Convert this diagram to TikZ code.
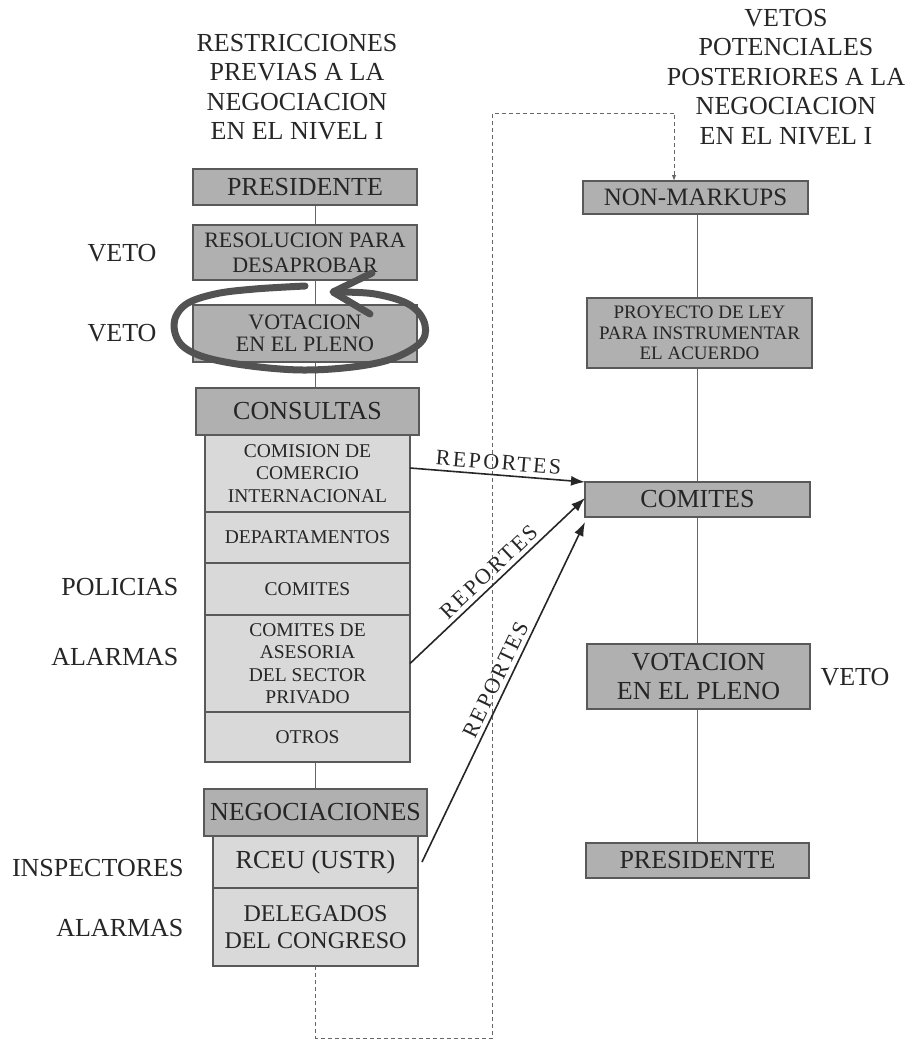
\documentclass[tikz,border=0pt]{standalone}
\usepackage{fontspec}
\setmainfont{Liberation Serif}
\newfontfamily\spacedfont[LetterSpace=11]{Liberation Serif}
\usetikzlibrary{positioning,arrows.meta,backgrounds}
\tikzset{
		>={Latex[length=14pt,width=10pt]},
		base/.style={
			rectangle,
			draw=black!65, line width=1.4pt,
			outer sep=0pt, inner sep=1pt,
			align=center,
			text=black!85},
		darkbox/.style={base, fill=black!31, font=\fontsize{26}{29}\selectfont},
		litebox/.style={base, fill=black!15, minimum width=205pt,
			font=\fontsize{19.5}{22.5}\selectfont},
		title/.style={align=center, text=black!85, font=\fontsize{26}{29.5}\selectfont},
		side/.style={text=black!85, font=\fontsize{26}{30}\selectfont},
		report/.style={sloped, above=1pt, text=black!85,
			font=\spacedfont\fontsize{22}{24}\selectfont},
		link/.style={draw=black!60, line width=1.2pt},
		reparrow/.style={draw=black!85, line width=1.6pt, ->},
		feed/.style={draw=black!60, line width=1pt, dash pattern=on 4pt off 3pt},
		scribble/.style={draw=black!68, line width=7pt, line cap=round, line join=round},
	}

\begin{document}
\begin{tikzpicture}[x=1pt, y=-1pt]
			\useasboundingbox (0,0) rectangle (910,1041);
			
			\node[title] (tleft) at (297,87) {RESTRICCIONES\\PREVIAS A LA\\NEGOCIACION\\EN EL NIVEL I};
			\node[title] (tright) at (786,77) {VETOS\\POTENCIALES\\POSTERIORES A LA\\NEGOCIACION\\EN EL NIVEL I};
			
			% columna izquierda
			\node[darkbox, minimum width=224pt, minimum height=36pt] (presL) at (305,187) {PRESIDENTE};
			\node[darkbox, minimum width=224pt, minimum height=55pt,
			font=\fontsize{22}{25}\selectfont] (desap) at (305,252.5) {RESOLUCION PARA\\DESAPROBAR};
			\node[darkbox, minimum width=224pt, minimum height=57pt,
			font=\fontsize{22}{22}\selectfont] (votL) at (305,333.5) {VOTACION\\EN EL PLENO};
			\node[darkbox, minimum width=223pt, minimum height=47pt] (consul) at (307.5,411.5) {CONSULTAS};
			\node[litebox, minimum height=77pt, below=0pt of consul] (cci) {COMISION DE\\COMERCIO\\INTERNACIONAL};
			\node[litebox, minimum height=51pt, below=0pt of cci] (deptos) {DEPARTAMENTOS};
			\node[litebox, minimum height=52pt, below=0pt of deptos] (comL) {COMITES};
			\node[litebox, minimum height=97pt, below=0pt of comL] (asesor) {COMITES DE\\ASESORIA\\DEL SECTOR\\PRIVADO};
			\node[litebox, minimum height=50pt, below=0pt of asesor] (otros) {OTROS};
			\node[darkbox, minimum width=223pt, minimum height=47pt] (negoc) at (315.5,812.5) {NEGOCIACIONES};
			\node[litebox, minimum height=52pt, below=0pt of negoc,
			font=\fontsize{26}{29}\selectfont] (rceu) {RCEU (USTR)};
			\node[litebox, minimum height=78pt, below=0pt of rceu,
			font=\fontsize{24}{27}\selectfont] (deleg) {DELEGADOS\\DEL CONGRESO};
			
			% columna derecha
			\node[darkbox, minimum width=225pt, minimum height=33pt,
			font=\fontsize{25}{28}\selectfont] (nonmk) at (695.5,197.5) {NON-MARKUPS};
			\node[darkbox, minimum width=225pt, minimum height=70pt,
			font=\fontsize{19}{20.5}\selectfont] (proy) at (699.5,333) {PROYECTO DE LEY\\PARA INSTRUMENTAR\\EL ACUERDO};
			\node[darkbox, minimum width=225pt, minimum height=35pt] (comR) at (697.5,499.5) {COMITES};
			\node[darkbox, minimum width=223pt, minimum height=65pt] (votR) at (698.5,676.5) {VOTACION\\EN EL PLENO};
			\node[darkbox, minimum width=223pt, minimum height=35pt] (presR) at (697.5,860.5) {PRESIDENTE};
			
			% etiquetas laterales
			\node[side, anchor=east] (veto1) at (160,253) {VETO};
			\node[side, anchor=east] (veto2) at (160,333) {VETO};
			\node[side, anchor=east] (polic) at (182,587) {POLICIAS};
			\node[side, anchor=east] (alarm1) at (182,657) {ALARMAS};
			\node[side, anchor=east] (insp) at (187,868) {INSPECTORES};
			\node[side, anchor=east] (alarm2) at (187,928) {ALARMAS};
			\node[side, anchor=west] (vetoR) at (817,677) {VETO};
			
			\begin{scope}[on background layer]
			\draw[link] (presL.south -| negoc.north) -- (negoc.north);
			\draw[link] (nonmk.south -| presR.north) -- (presR.north);
			\end{scope}
			
			% retroalimentacion
			\coordinate (fbot) at (492,1038);
			\coordinate (ftop) at (492,113);
			\draw[feed, -{Latex[length=6pt,width=4.5pt]}] (deleg.south) |- (fbot) -- (ftop)
			-| ([xshift=-21.5pt]nonmk.north);
			
			\draw[reparrow] ([yshift=5.5pt]cci.east) -- node[report] {REPORTES} ([yshift=17.5pt]comR.west);
			\draw[reparrow] (asesor.east) -- node[report] {REPORTES} ([yshift=1.5pt]comR.west);
			\draw[reparrow] ([xshift=4pt]rceu.east) -- node[report, pos=0.52] {REPORTES} ([yshift=-22.5pt]comR.west);
			
			% trazo a mano
			\draw[scribble] plot[smooth, tension=0.6] coordinates {(305,286) (255,289) (215,294) (185,305)
				(174,325) (185,348) (225,362) (303,370) (377,363) (418,345) (425,325) (410,305) (375,294) (335,292)};
			\draw[scribble] (372,273) -- (333,292) -- (370,314);
\end{tikzpicture}
\end{document}
